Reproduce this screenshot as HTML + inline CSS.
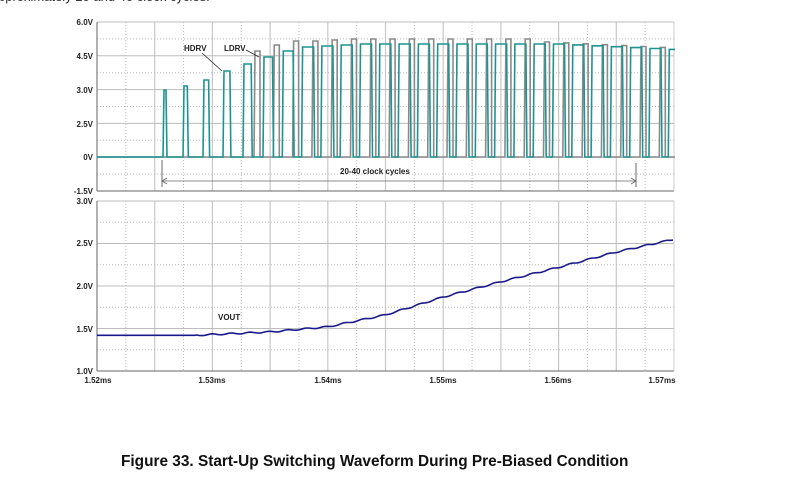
<!DOCTYPE html>
<html><head><style>
body{margin:0;width:796px;height:479px;background:#fff;overflow:hidden;font-family:"Liberation Sans",Arial,sans-serif}
</style></head><body>
<svg id="s" width="796" height="479" xmlns="http://www.w3.org/2000/svg" style="position:absolute;left:0;top:0">
<defs><clipPath id="c"><rect x="97" y="0" width="578" height="479"/></clipPath></defs>
<text x="-2" y="1" font-size="13" fill="#333">pproximately 20 and 40 clock cycles.</text>
<g id="grid"></g>
<g font-size="8" font-weight="bold" fill="#222" text-anchor="end">
<text x="93" y="25">6.0V</text><text x="93" y="59">4.5V</text><text x="93" y="93">3.0V</text>
<text x="93" y="127">2.5V</text><text x="93" y="160">0V</text><text x="93" y="194">-1.5V</text>
<text x="93" y="204">3.0V</text><text x="93" y="246">2.5V</text><text x="93" y="289">2.0V</text>
<text x="93" y="332">1.5V</text><text x="93" y="374">1.0V</text>
</g>
<g font-size="8" font-weight="bold" fill="#222" text-anchor="middle">
<text x="98" y="383">1.52ms</text><text x="212" y="383">1.53ms</text><text x="328" y="383">1.54ms</text>
<text x="443" y="383">1.55ms</text><text x="558" y="383">1.56ms</text><text x="662" y="383">1.57ms</text>
</g>
<g id="wave" clip-path="url(#c)"></g>
<g font-size="8" font-weight="bold" fill="#222">
<text x="184" y="51">HDRV</text><text x="224" y="51">LDRV</text>
<line x1="202" y1="53" x2="222" y2="71" stroke="#222" stroke-width="0.8"/>
<line x1="246" y1="50" x2="259" y2="57" stroke="#222" stroke-width="0.8"/>
<text x="340" y="174">20-40 clock cycles</text>
<text x="218" y="320">VOUT</text>
</g>
<line x1="162" y1="160" x2="162" y2="187" stroke="#444" stroke-width="0.8"/>
<line x1="636" y1="163" x2="636" y2="187" stroke="#444" stroke-width="0.8"/>
<line x1="162" y1="181" x2="636" y2="181" stroke="#666" stroke-width="0.8"/>
<path d="M167,178 L162,181 L167,184 M631,178 L636,181 L631,184" stroke="#666" fill="none" stroke-width="0.8"/>
<text x="121" y="466" font-size="15.4" font-weight="bold" fill="#111">Figure 33.  Start-Up Switching Waveform During Pre-Biased Condition</text>
</svg>
<script>
const NS="http://www.w3.org/2000/svg";
const g=document.getElementById('grid'),w=document.getElementById('wave');
function L(p,x1,y1,x2,y2,c,d,sw){const e=document.createElementNS(NS,'line');e.setAttribute('x1',x1);e.setAttribute('y1',y1);e.setAttribute('x2',x2);e.setAttribute('y2',y2);e.setAttribute('stroke',c);e.setAttribute('stroke-width',sw||1);if(d)e.setAttribute('stroke-dasharray',d);p.appendChild(e);}
function P(p,d,c,sw){const e=document.createElementNS(NS,'path');e.setAttribute('d',d);e.setAttribute('stroke',c);e.setAttribute('fill','none');e.setAttribute('stroke-width',sw||1.5);p.appendChild(e);}
const X0=97,X1=674;
[[22,191],[201,371]].forEach(([t,b])=>{
 for(let i=0;i<=20;i++){const x=X0+i*(X1-X0)/20;if(i==0||i==20)continue;L(g,x,t,x,b,i%2?'#bbb':'#c8c8c8',i%2?'1,2':null,i%2?1:1.2);}
});
for(let i=0;i<=10;i++){const y=22+i*16.9;L(g,X0,y,X1,y,i%2?'#bbb':'#bdbdbd',i%2?'1,2':null,1);}
for(let i=0;i<=8;i++){const y=201+i*21.25;L(g,X0,y,X1,y,i%2?'#bbb':'#bdbdbd',i%2?'1,2':null,1);}
L(g,X0,22,X0,191,'#666');L(g,X0,201,X0,371,'#666');L(g,X0,191,X1,191,'#666');L(g,X0,371,X1,371,'#666');
L(g,X1,22,X1,191,'#ccc');L(g,X1,201,X1,371,'#ccc');
const Z=157;let hd=`M${X0},${Z} L163,${Z}`,ld=`M${X0},${Z}`;
const tops=[90,86,80,71,64,57,51,47,46,45];
let x=163,k=0;
while(x<680){
 const top=k<tops.length?tops[k]:(k<20?44:44+(k-20)*0.9);
 const wdt=Math.min(3+k*1.3,12);
 hd+=` L${x},${Z} L${x+1},${top} L${x+wdt},${top} L${x+wdt+1},${Z}`;
 if(k>=5){const gt=top-(k<8?6:(k<20?5:2));const gx=x-5;ld+=` L${gx-4},${Z} L${gx-3},${gt} L${gx+2},${gt} L${gx+2},${Z}`;}
 x+=k<5?20:19.3;k++;
}
hd+=` L690,${Z}`;ld+=` L690,${Z}`;
P(w,ld,'#8a8a8a',1.6);P(w,hd,'#1e9391',1.6);
const pts=[[0,1.42],[0.17,1.42],[0.3,1.46],[0.4,1.52],[0.5,1.66],[0.6,1.87],[0.7,2.05],[0.8,2.22],[0.9,2.40],[1,2.55]];
function V(t){for(let i=1;i<pts.length;i++){if(t<=pts[i][0]){const [a,va]=pts[i-1],[b,vb]=pts[i];return va+(vb-va)*(t-a)/(b-a);}}return 2.55;}
let vd='';for(let xx=X0;xx<=X1;xx+=2){const t=(xx-X0)/(X1-X0);let v=V(t);if(t>0.17)v+=0.008*Math.sin(xx/3);
vd+=(xx==X0?'M':' L')+xx+','+(371-(v-1)*85).toFixed(1);}
P(w,vd,'#1a1a8c',1.6);
</script>
</body></html>
